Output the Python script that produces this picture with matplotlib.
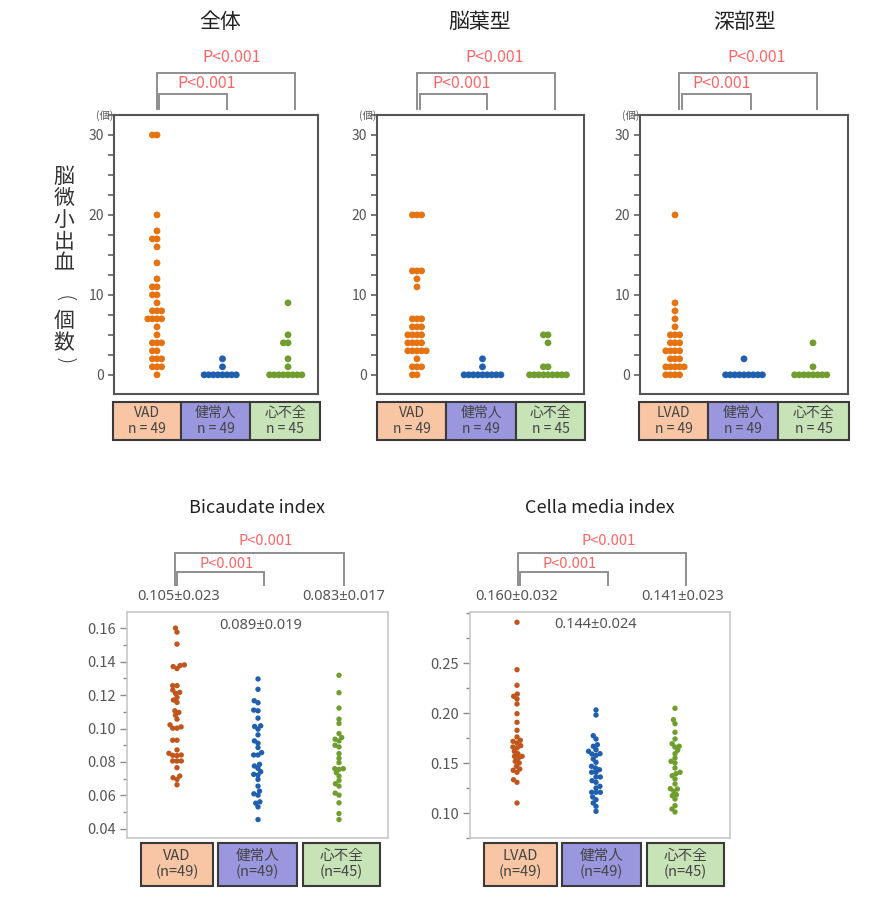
import numpy as np
import matplotlib
matplotlib.use('Agg')
import matplotlib.pyplot as plt
from matplotlib.patches import Rectangle
from matplotlib.lines import Line2D
from matplotlib.ticker import MultipleLocator, FormatStrFormatter

plt.rcParams['font.family'] = ['Noto Sans CJK JP', 'DejaVu Sans']

# ---------------- data ----------------
top_titles = ['全体', '脳葉型', '深部型']
top_groups = [['VAD', '健常人', '心不全'],
              ['VAD', '健常人', '心不全'],
              ['LVAD', '健常人', '心不全']]
top_n_labels = ['n = 49', 'n = 49', 'n = 45']
top_yticks = [0, 10, 20, 30]
top_unit = '(個)'
top_ylabel_chars = ['脳', '微', '小', '出', '血', '(', '個', '数', ')']
p_label = 'P<0.001'

# 全体 (total microbleeds)
all_vad = [30, 30, 20, 18, 17, 17, 16, 14, 12, 11, 11, 10, 10, 9, 8, 8, 8,
           7, 7, 7, 7, 6, 5, 4, 4, 4, 3, 3, 2, 2, 2, 1, 1, 1, 0]
all_hc = [0, 0, 0, 0, 0, 0, 0, 0, 1, 2]
all_hf = [0, 0, 0, 0, 0, 0, 0, 0, 1, 2, 4, 4, 5, 9]

# 脳葉型 (lobar)
lob_vad = [20, 20, 20, 13, 13, 13, 12, 11, 7, 7, 7, 6, 6, 6, 5, 5, 5, 5,
           4, 4, 4, 4, 3, 3, 3, 3, 3, 2, 1, 1, 1, 0, 0]
lob_hc = [0, 0, 0, 0, 0, 0, 0, 0, 0, 1, 2]
lob_hf = [0, 0, 0, 0, 0, 0, 0, 0, 0, 1, 1, 4, 5, 5]

# 深部型 (deep)
deep_vad = [20, 9, 8, 7, 6, 5, 5, 5, 4, 4, 4, 3, 3, 3, 3, 2, 2, 2,
            1, 1, 1, 1, 1, 0, 0, 0, 0]
deep_hc = [0, 0, 0, 0, 0, 0, 0, 0, 0, 2]
deep_hf = [0, 0, 0, 0, 0, 0, 0, 0, 1, 4]

bottom_titles = ['Bicaudate index', 'Cella media index']
bottom_groups = [['VAD', '健常人', '心不全'], ['LVAD', '健常人', '心不全']]
bottom_n_labels = ['(n=49)', '(n=49)', '(n=45)']
bic_mean_sd = ['0.105±0.023', '0.089±0.019', '0.083±0.017']
cel_mean_sd = ['0.160±0.032', '0.144±0.024', '0.141±0.023']

bic_vad = [0.160, 0.1576, 0.1504, 0.138, 0.1358, 0.1376, 0.137, 0.1256, 0.1256,
           0.1216, 0.123, 0.121, 0.1186, 0.117, 0.1156, 0.1096, 0.1106, 0.108,
           0.1056, 0.1022, 0.1002, 0.1002, 0.101, 0.093, 0.093, 0.0872, 0.0852,
           0.0842, 0.084, 0.0838, 0.0806, 0.0806, 0.0806, 0.0766, 0.0716, 0.0706,
           0.0696, 0.0664]
bic_hc = [0.1296, 0.1234, 0.1166, 0.1154, 0.1106, 0.111, 0.1062, 0.1016, 0.1012,
          0.0996, 0.0962, 0.0926, 0.0912, 0.0886, 0.0842, 0.0842, 0.0856, 0.0786,
          0.0776, 0.0762, 0.0742, 0.0726, 0.0722, 0.0696, 0.0656, 0.0626, 0.061,
          0.0602, 0.0562, 0.0554, 0.0532, 0.0456]
bic_hf = [0.1318, 0.1214, 0.1122, 0.1056, 0.103, 0.097, 0.0946, 0.0936, 0.0926,
          0.090, 0.089, 0.085, 0.0822, 0.0796, 0.076, 0.076, 0.0756, 0.0736,
          0.0716, 0.069, 0.067, 0.0656, 0.0614, 0.0602, 0.0556, 0.0492, 0.0456]

cel_vad = [0.2907, 0.2433, 0.2277, 0.219, 0.2167, 0.214, 0.209, 0.1993, 0.1907,
           0.1827, 0.176, 0.1717, 0.1727, 0.170, 0.165, 0.166, 0.1673, 0.1617,
           0.1593, 0.1567, 0.1567, 0.1547, 0.1517, 0.150, 0.1467, 0.144, 0.1427,
           0.1407, 0.1333, 0.1307, 0.110]
cel_hc = [0.203, 0.198, 0.1773, 0.174, 0.1683, 0.1667, 0.1633, 0.1577, 0.159,
          0.1593, 0.1617, 0.154, 0.1507, 0.1467, 0.145, 0.1433, 0.1407, 0.1407,
          0.136, 0.136, 0.1323, 0.1307, 0.1267, 0.125, 0.1207, 0.1207, 0.1207,
          0.116, 0.1133, 0.110, 0.1067, 0.1017]
cel_hf = [0.2047, 0.1933, 0.1893, 0.1807, 0.174, 0.1693, 0.1667, 0.166, 0.1627,
          0.1593, 0.155, 0.1517, 0.150, 0.145, 0.1407, 0.1393, 0.1373, 0.134,
          0.129, 0.1243, 0.124, 0.1217, 0.1173, 0.1183, 0.114, 0.1073, 0.104, 0.101]

# ---------------- style ----------------
orange_top = '#e5730f'
orange_bot = '#c0561c'
blue = '#1f5fae'
green = '#6f9e2e'
box_colors = ['#f8c6a4', '#9a97df', '#c7e3b7']
p_color = '#ff6464'
br_color = '#8e8e8e'
txt_gray = '#555555'

W, H = 880, 913
fig = plt.figure(figsize=(W / 100, H / 100), dpi=100)


def add_ax(left, right, top, bottom):
    return fig.add_axes([left / W, 1 - bottom / H, (right - left) / W, (bottom - top) / H])


def fig_line(xs, ys, **kw):
    fig.add_artist(Line2D([x / W for x in xs], [1 - y / H for y in ys],
                          transform=fig.transFigure, **kw))


def fig_text(x, y, s, **kw):
    return fig.text(x / W, 1 - y / H, s, **kw)


def bracket(l, r, top, bottom):
    fig_line([l, l, r, r], [bottom, top, top, bottom], color=br_color, lw=1.4,
             solid_capstyle='butt', solid_joinstyle='miter')


def swarm(vals_px, d):
    order = np.argsort(vals_px, kind='stable')
    placed = []
    offs = np.zeros(len(vals_px))
    for i in order:
        y = vals_px[i]
        near = [(x, yy) for x, yy in placed if abs(yy - y) < d]
        cands = [0.0]
        for x, yy in near:
            dx = np.sqrt(max(d * d - (yy - y) ** 2, 0))
            cands += [x - dx, x + dx]
        cands = sorted(cands, key=lambda c: (round(abs(c), 6), c))
        for c in cands:
            if all((c - x) ** 2 + (yy - y) ** 2 >= d * d - 1e-6 for x, yy in near):
                offs[i] = c
                placed.append((c, y))
                break
    return offs


def draw_points(ax, series, colors, box, xlim, ylim, d_px, size):
    left, right, top, bottom = box
    sx = (right - left) / (xlim[1] - xlim[0])
    sy = (bottom - top) / (ylim[1] - ylim[0])
    for i, (vals, c) in enumerate(zip(series, colors)):
        v = np.asarray(vals, float)
        offs = swarm(v * sy, d_px) / sx
        ax.scatter(i + offs, v, s=size, color=c, edgecolors='none', zorder=3, clip_on=False)


def label_boxes(boxes, y0, y1, names, ns, fs):
    for (l, r), name, n, fc in zip(boxes, names, ns, box_colors):
        fig.add_artist(Rectangle((l / W, 1 - y1 / H), (r - l) / W, (y1 - y0) / H,
                                 transform=fig.transFigure, facecolor=fc,
                                 edgecolor='#3a3a3a', lw=1.5))
        fig_text((l + r) / 2, (y0 + y1) / 2, name + '\n' + n, ha='center', va='center',
                 fontsize=fs, color='#444444', linespacing=1.15)


# ---------------- top panels ----------------
top_series = [[all_vad, all_hc, all_hf], [lob_vad, lob_hc, lob_hf], [deep_vad, deep_hc, deep_hf]]
top_boxes = [(114, 318, 115, 394), (377, 584, 115, 394), (640, 848, 115, 394)]
top_cats = [(157, 288), (417, 548), (675, 813)]
top_label_boxes = [[(113, 181), (181, 250), (250, 320)],
                   [(377, 446), (446, 516), (516, 585)],
                   [(639, 708), (708, 778), (778, 849)]]
top_title_x = [220, 480, 745]
top_brackets = [dict(o=(157, 295), i=(159, 227), to=(232, 58), ti=(207, 84)),
                dict(o=(417, 555), i=(420, 487), to=(495, 58), ti=(462, 84)),
                dict(o=(679, 817), i=(682, 751), to=(757, 58), ti=(722, 84))]
top_ylim = (-2.4, 32.5)

for k in range(3):
    box = top_boxes[k]
    c0, c2 = top_cats[k]
    sp = (c2 - c0) / 2
    xlim = ((box[0] - c0) / sp, (box[1] - c0) / sp)
    ax = add_ax(*box)
    ax.set_xlim(*xlim)
    ax.set_ylim(*top_ylim)
    draw_points(ax, top_series[k], [orange_top, blue, green], box, xlim, top_ylim, 4.6, 24)
    ax.set_xticks([])
    ax.set_yticks(top_yticks)
    ax.yaxis.set_minor_locator(MultipleLocator(2.5))
    ax.tick_params(axis='y', which='both', length=4, width=1.1, color='#555555',
                   labelsize=10, labelcolor=txt_gray, pad=3)
    for s in ax.spines.values():
        s.set_color('#555555')
        s.set_linewidth(1.5)
    fig_text(box[0] - 1, box[2] + 1, top_unit, ha='right', va='center', fontsize=7.5,
             color=txt_gray)
    fig_text(top_title_x[k], 22, top_titles[k], ha='center', va='center', fontsize=15,
             color='#222222')
    b = top_brackets[k]
    bracket(b['o'][0], b['o'][1], 73, 110)
    bracket(b['i'][0], b['i'][1], 94, 110)
    fig_text(b['to'][0], b['to'][1], p_label, ha='center', va='center', fontsize=11.5,
             color=p_color)
    fig_text(b['ti'][0], b['ti'][1], p_label, ha='center', va='center', fontsize=11.5,
             color=p_color)
    label_boxes(top_label_boxes[k], 402, 440, top_groups[k], top_n_labels, 10)

# vertical y label (characters stacked upright, parentheses turned a quarter)
ylabel_y = [177, 198, 220, 242, 263, 299, 321, 343, 361]
for ch, yy in zip(top_ylabel_chars, ylabel_y):
    if ch in '()':
        t = fig_text(64, yy, ch, ha='center', va='center', fontsize=16, color='#333333',
                     family=['DejaVu Sans'], fontweight='light')
        t.set_rotation(270)
    else:
        fig_text(64, yy, ch, ha='center', va='center', fontsize=15, color='#333333')

# ---------------- bottom panels ----------------
bot_series = [[bic_vad, bic_hc, bic_hf], [cel_vad, cel_hc, cel_hf]]
bot_boxes = [(127, 388, 612, 838), (470, 730, 612, 838)]
bot_cats = [(177, 339), (517, 675)]
bot_ylims = [(0.0346, 0.1696), (0.075, 0.301)]
bot_minor = [0.01, 0.025]
bot_yticks = [[0.04, 0.06, 0.08, 0.10, 0.12, 0.14, 0.16], [0.10, 0.15, 0.20, 0.25]]
bot_title_x = [257, 600]
bot_label_boxes = [[(141, 213), (218, 297), (303, 380)],
                   [(484, 557), (562, 641), (647, 724)]]
bot_brackets = [dict(o=(175, 344), i=(177, 264), to=(266, 541), ti=(227, 564),
                     m=[(179, 597), (261, 625), (344, 597)]),
                dict(o=(518, 686), i=(520, 608), to=(609, 541), ti=(570, 564),
                     m=[(517, 597), (595, 624), (683, 597)])]
bot_means = [bic_mean_sd, cel_mean_sd]

for k in range(2):
    box = bot_boxes[k]
    c0, c2 = bot_cats[k]
    sp = (c2 - c0) / 2
    xlim = ((box[0] - c0) / sp, (box[1] - c0) / sp)
    ax = add_ax(*box)
    ax.set_xlim(*xlim)
    ax.set_ylim(*bot_ylims[k])
    draw_points(ax, bot_series[k], [orange_bot, blue, green], box, xlim, bot_ylims[k], 4.3, 15)
    ax.set_xticks([])
    ax.set_yticks(bot_yticks[k])
    ax.yaxis.set_major_formatter(FormatStrFormatter('%.2f'))
    ax.yaxis.set_minor_locator(MultipleLocator(bot_minor[k]))
    ax.tick_params(axis='y', which='major', length=5, width=1, color='#8a8a8a',
                   labelsize=10.5, labelcolor=txt_gray, pad=3)
    ax.tick_params(axis='y', which='minor', length=3, width=1, color='#8a8a8a')
    for s in ax.spines.values():
        s.set_color('#c8c8c8')
        s.set_linewidth(1.2)
    fig_text(bot_title_x[k], 508, bottom_titles[k], ha='center', va='center',
             fontsize=13, color='#222222')
    b = bot_brackets[k]
    bracket(b['o'][0], b['o'][1], 553, 586)
    bracket(b['i'][0], b['i'][1], 572, 586)
    fig_text(b['to'][0], b['to'][1], p_label, ha='center', va='center', fontsize=10.5,
             color=p_color)
    fig_text(b['ti'][0], b['ti'][1], p_label, ha='center', va='center', fontsize=10.5,
             color=p_color)
    for (mx, my), s in zip(b['m'], bot_means[k]):
        fig_text(mx, my, s, ha='center', va='center', fontsize=10.5, color=txt_gray,
                 family=['Noto Sans', 'DejaVu Sans'])
    label_boxes(bot_label_boxes[k], 843, 886, bottom_groups[k], bottom_n_labels, 10.5)

fig.savefig('out.png', dpi=100, facecolor='white')
